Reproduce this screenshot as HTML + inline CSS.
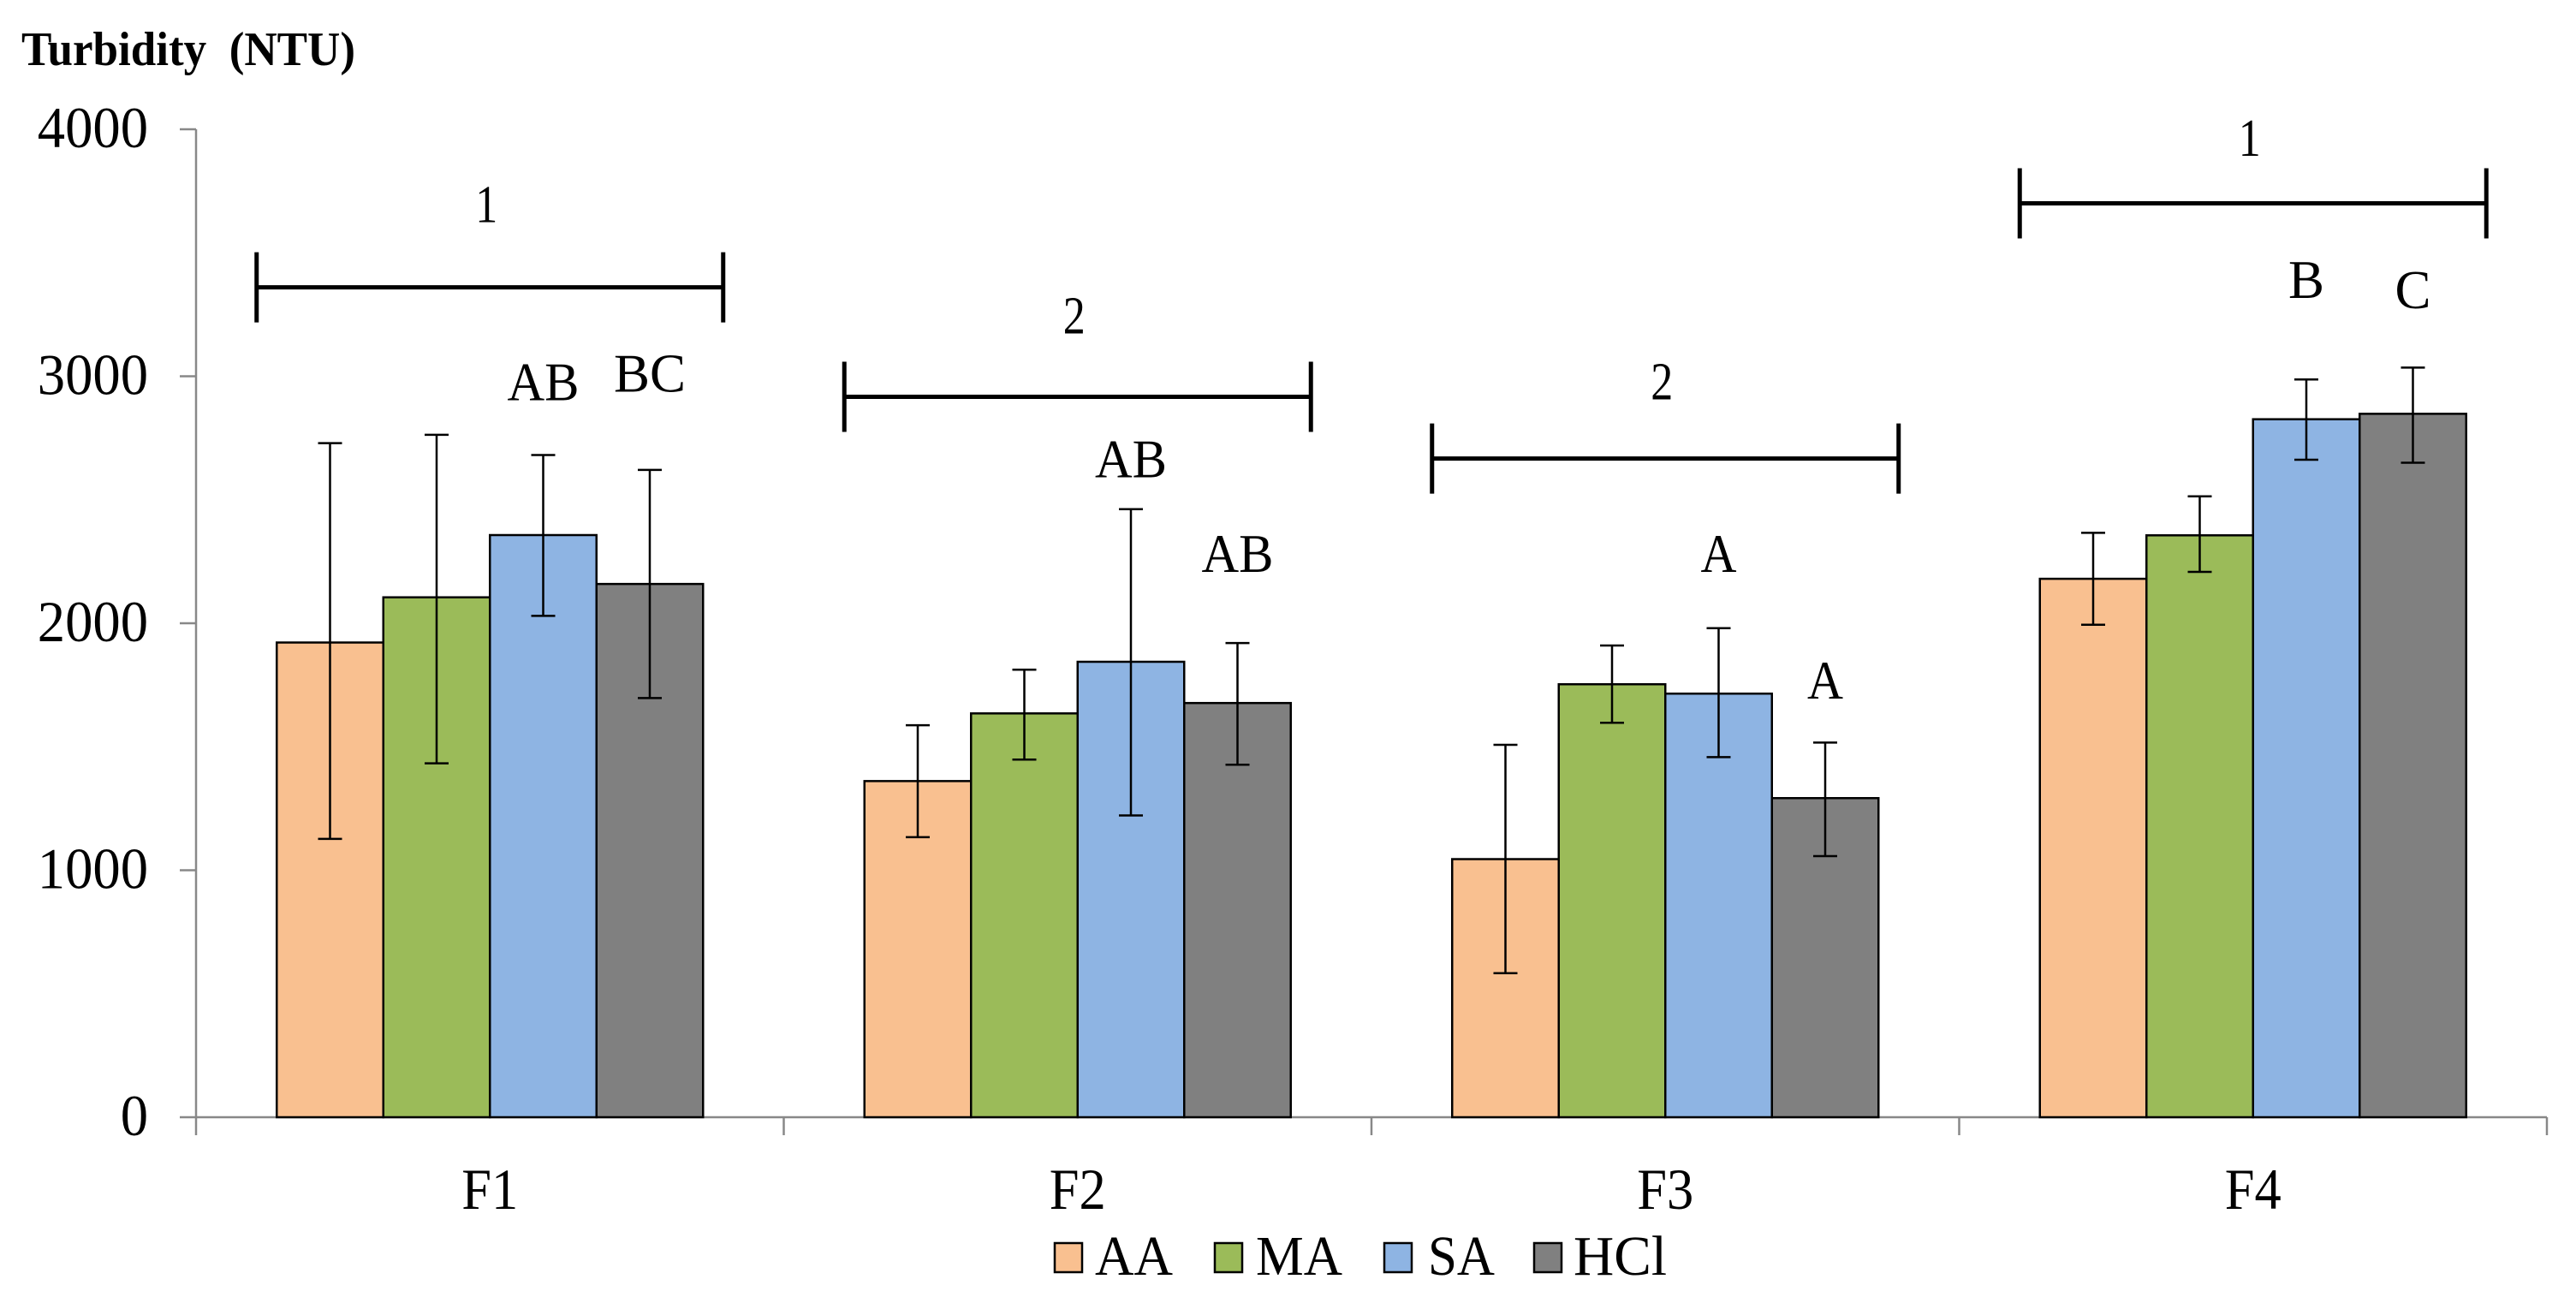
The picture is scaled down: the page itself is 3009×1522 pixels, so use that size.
<!DOCTYPE html>
<html><head><meta charset="utf-8"><style>
html,body{margin:0;padding:0;background:#fff}
svg{display:block}
svg text{font-family:"Liberation Serif","Times New Roman","DejaVu Serif",serif;fill:#000}
</style></head><body>
<svg id="chart" width="3009" height="1522" viewBox="0 0 3009 1522" xmlns="http://www.w3.org/2000/svg" font-family="Liberation Serif, DejaVu Serif, serif">
<text x="25" y="76" font-size="56" font-weight="bold" textLength="390" lengthAdjust="spacingAndGlyphs" xml:space="preserve">Turbidity  (NTU)</text>
<g id="plot"></g>
</svg>
<script>
const categories = ["F1","F2","F3","F4"];
const series = ["AA","MA","SA","HCl"];
const colors = ["#F9C090","#9BBB59","#8EB4E3","#808080"];
const aaVals = [1922, 1361, 1045, 2180];
const maVals = [2105, 1635, 1753, 2356];
const saVals = [2357, 1844, 1715, 2826];
const hclVals = [2159, 1677, 1292, 2848];
const aaHi = [2729, 1587, 1508, 2366];
const aaLo = [1127, 1134, 583, 1994];
const maHi = [2763, 1812, 1910, 2514];
const maLo = [1433, 1448, 1597, 2208];
const saHi = [2681, 2462, 1980, 2987];
const saLo = [2030, 1222, 1458, 2662];
const hclHi = [2621, 1920, 1517, 3035];
const hclLo = [1697, 1427, 1057, 2650];
const yTicks = [0, 1000, 2000, 3000, 4000];
const bracketY = [3360, 2917, 2667, 3700];
const bracketLabels = ["1","2","2","1"];
const bracketLabelY = [3700, 3250, 2983, 3968];
const letterCat = [0, 0, 1, 1, 2, 2, 3, 3];
const letterSer = [2, 3, 2, 3, 2, 3, 2, 3];
const letterTxt = ["AB","BC","AB","AB","A","A","B","C"];
const letterVal = [2980, 3013, 2668, 2285, 2285, 1771, 3393, 3352];

const vals = [aaVals, maVals, saVals, hclVals];
const his = [aaHi, maHi, saHi, hclHi];
const los = [aaLo, maLo, saLo, hclLo];

const X0 = 229, X1 = 2975, Y0 = 1305, Y1 = 151, YMAX = 4000;
const catW = (X1 - X0) / categories.length;
const barW = 124.5;
function yScale(v){ return Y0 - (v / YMAX) * (Y0 - Y1); }
function catCenter(i){ return X0 + catW * (i + 0.5); }
function barX(c, s){ return catCenter(c) - barW * series.length / 2 + s * barW; }

const NS = "http://www.w3.org/2000/svg";
const plot = document.getElementById("plot");
function mk(tag, attrs, parent){
  const e = document.createElementNS(NS, tag);
  for (const k in attrs) e.setAttribute(k, attrs[k]);
  if (tag === "text") e.setAttribute("font-family", "Liberation Serif, DejaVu Serif, serif");
  (parent || plot).appendChild(e);
  return e;
}

let ax = mk("line", {x1:X0, y1:Y1, x2:X0, y2:Y0, stroke:"#888", "stroke-width":2.5});


let xa = mk("line", {x1:X0, y1:Y0, x2:X1, y2:Y0, stroke:"#888", "stroke-width":2.5});


yTicks.forEach(t => {
  const y = yScale(t);
  const tk = mk("line", {x1:X0-19, y1:y, x2:X0, y2:y, stroke:"#888", "stroke-width":2.5});
  
  
  const s = String(t);
  const tl = mk("text", {x:173, y:y+21, "font-size":68, "text-anchor":"end", textLength: 32.3*s.length, lengthAdjust:"spacingAndGlyphs"});
  tl.textContent = s;
  
  
});
for (let i = 0; i <= categories.length; i++){
  const x = X0 + catW * i;
  const tk = mk("line", {x1:x, y1:Y0, x2:x, y2:Y0+21, stroke:"#888", "stroke-width":2.5});
  
  
}
categories.forEach((c, i) => {
  const tl = mk("text", {x:catCenter(i), y:1412, "font-size":68, "text-anchor":"middle", textLength:66, lengthAdjust:"spacingAndGlyphs"});
  tl.textContent = c;
  
  
});

categories.forEach((c, ci) => {
  series.forEach((s, si) => {
    const v = vals[si][ci];
    const x = barX(ci, si);
    const r = mk("rect", {x:x, y:yScale(v), width:barW, height:Y0 - yScale(v), fill:colors[si], stroke:"#000", "stroke-width":2.5});
    
    
  });
  series.forEach((s, si) => {
    const cx = barX(ci, si) + barW / 2;
    const yh = yScale(his[si][ci]), yl = yScale(los[si][ci]);
    const g = mk("g", {stroke:"#000", "stroke-width":2.5});
    
    
    mk("line", {x1:cx, y1:yh, x2:cx, y2:yl}, g);
    mk("line", {x1:cx-14, y1:yh, x2:cx+14, y2:yh}, g);
    mk("line", {x1:cx-14, y1:yl, x2:cx+14, y2:yl}, g);
  });
  const bc = catCenter(ci), bw = 545, by = yScale(bracketY[ci]);
  const bg = mk("g", {stroke:"#000", "stroke-width":5});
  
  
  mk("line", {x1:bc-bw/2, y1:by, x2:bc+bw/2, y2:by}, bg);
  mk("line", {x1:bc-bw/2, y1:by-41, x2:bc-bw/2, y2:by+41}, bg);
  mk("line", {x1:bc+bw/2, y1:by-41, x2:bc+bw/2, y2:by+41}, bg);
  const bl = mk("text", {x:bc-4, y:yScale(bracketLabelY[ci])+22, "font-size":62, "text-anchor":"middle", textLength:26, lengthAdjust:"spacingAndGlyphs"});
  bl.textContent = bracketLabels[ci];
  
  
});

letterTxt.forEach((t, i) => {
  const cx = barX(letterCat[i], letterSer[i]) + barW / 2;
  const lt = mk("text", {x:cx, y:yScale(letterVal[i])+22, "font-size":64, "text-anchor":"middle", textLength:42*t.length, lengthAdjust:"spacingAndGlyphs"});
  lt.textContent = t;
  
  
});

const legSqX = [1232, 1419, 1617, 1792];
const legTxtX = [1279, 1467, 1668, 1838];
const legTxtW = [91, 101, 78, 109];
series.forEach((s, i) => {
  const g = mk("g", {});
  
  
  mk("rect", {x:legSqX[i], y:1452, width:32, height:34, fill:colors[i], stroke:"#000", "stroke-width":2.5}, g);
  const t = mk("text", {x:legTxtX[i], y:1489, "font-size":66, textLength:legTxtW[i], lengthAdjust:"spacingAndGlyphs"}, g);
  t.textContent = s;
});
</script>
</body></html>
